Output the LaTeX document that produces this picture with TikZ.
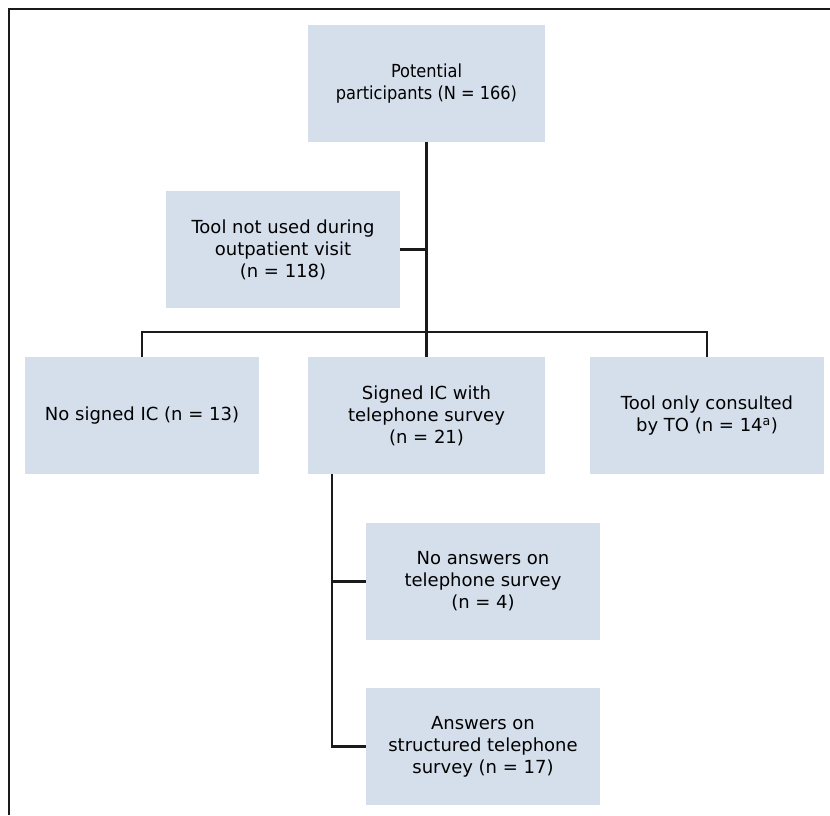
\documentclass[tikz,border=0pt]{standalone}
\usepackage{fontspec}
\setmainfont{DejaVu Sans}
\newfontfamily\narrowfont[FakeStretch=0.9]{DejaVu Sans}
\usepackage{tikz}
\definecolor{boxfill}{RGB}{213,223,236}
\definecolor{linegray}{RGB}{26,26,26}
\tikzstyle{flowbox} = [fill=boxfill, rectangle, minimum width=234pt, minimum height=117pt, align=center, inner sep=0pt, font=\fontsize{18}{22}\selectfont]
\tikzstyle{link} = [draw=linegray, line width=2.5pt]
\tikzstyle{frameline} = [draw=linegray, line width=2pt]

\begin{document}
\begin{tikzpicture}[x=1pt,y=-1pt]
	\useasboundingbox (0,0) rectangle (830,815);
	\draw[frameline] (830,9) -| (9,815);
	\node[flowbox, minimum width=237pt, font=\narrowfont\fontsize{18}{22}\selectfont](potential) at (426.5,83.5) {Potential\\participants (N = 166)};
	\node[flowbox](notused) at (283,249.5) {Tool not used during\\outpatient visit\\(n = 118)};
	\node[flowbox](nosigned) at (142,415.5) {No signed IC (n = 13)};
	\node[flowbox, minimum width=237pt](signed) at (426.5,415.5) {Signed IC with\\telephone survey\\(n = 21)};
	\node[flowbox](onlyto) at (707,415.5) {Tool only consulted\\by TO (n = 14\textsuperscript{a})};
	\node[flowbox](noanswers) at (483,581.5) {No answers on\\telephone survey\\(n = 4)};
	\node[flowbox](answers) at (483,746.5) {Answers on\\structured telephone\\survey (n = 17)};
	\coordinate (bus) at (0,332);
	\coordinate (stem) at (332,474);
	\draw[link] (potential) -- (signed);
	\draw[link] (notused.east) -- (notused.east -| potential.south);
	\draw[link] (nosigned.north) |- (bus -| onlyto.north) -- (onlyto.north);
	\draw[link] (stem) |- (answers.west);
	\draw[link] (stem |- noanswers.west) -- (noanswers.west);
\end{tikzpicture}
\end{document}
